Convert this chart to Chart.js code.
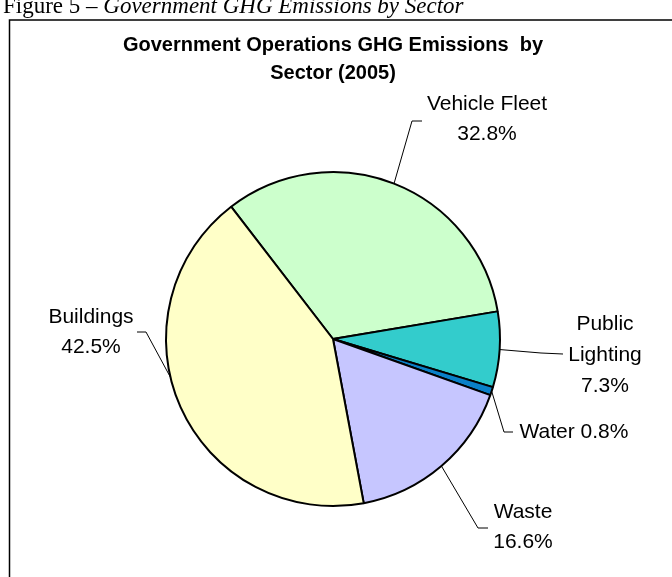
<!DOCTYPE html>
<html>
<head>
<meta charset="utf-8">
<script src="https://cdn.jsdelivr.net/npm/chart.js@4.4.1/dist/chart.umd.min.js"></script>
<style>
  html, body { margin: 0; padding: 0; background: #ffffff; }
  #wrap { position: relative; width: 672px; height: 577px; overflow: hidden; }
  canvas { display: block; }
</style>
</head>
<body>
<div id="wrap"><canvas id="pie" width="672" height="577"></canvas></div>
<script>
// Sector shares of 2005 government operations GHG emissions (%)
const categories = ['Vehicle Fleet', 'Public Lighting', 'Water', 'Waste', 'Buildings'];
const shares = [32.8, 7.3, 0.8, 16.6, 42.5];
const sliceColors = ['#CCFFCC', '#33CCCC', '#0A80C8', '#C6C6FF', '#FFFFC8'];

const captionPlain = 'Figure 5 \u2013 ';
const captionItalic = 'Government GHG Emissions by Sector';
const titleLines = ['Government Operations GHG Emissions  by', 'Sector (2005)'];

const pct = v => v.toFixed(1) + '%';

// Where each slice label sits and how its leader line bends
const labelLayout = [
  { lines: [categories[0], pct(shares[0])], x: 487, y: 104, lh: 30, frac: 0.5,
    path: [[412, 121], [422, 121]] },
  { lines: ['Public', 'Lighting', pct(shares[1])], x: 605, y: 324, lh: 31, frac: 0.5,
    path: [[541, 353], [563, 354]] },
  { lines: [categories[2] + ' ' + pct(shares[2])], x: 574, y: 432, lh: 30, frac: 0.5,
    path: [[504, 432], [513, 432]] },
  { lines: [categories[3], pct(shares[3])], x: 523, y: 512, lh: 30, frac: 0.5,
    path: [[478, 528], [488, 528]] },
  { lines: [categories[4], pct(shares[4])], x: 91, y: 317, lh: 30, frac: 0.571,
    path: [[146, 332], [137, 332]] }
];

const decorations = {
  id: 'decorations',
  beforeDraw(chart) {
    const ctx = chart.ctx;
    ctx.save();
    ctx.fillStyle = '#ffffff';
    ctx.fillRect(0, 0, chart.width, chart.height);

    // caption above the frame
    ctx.fillStyle = '#000000';
    ctx.textBaseline = 'alphabetic';
    ctx.textAlign = 'left';
    ctx.font = '23px "Liberation Serif", "Times New Roman", serif';
    ctx.fillText(captionPlain, 3, 13);
    const w = ctx.measureText(captionPlain).width;
    ctx.font = 'italic 23px "Liberation Serif", "Times New Roman", serif';
    ctx.fillText(captionItalic, 3 + w, 13);

    // frame around the chart
    ctx.strokeStyle = '#000000';
    ctx.lineWidth = 1.5;
    ctx.beginPath();
    ctx.moveTo(9.5, chart.height + 5);
    ctx.lineTo(9.5, 20);
    ctx.lineTo(chart.width + 5, 20);
    ctx.stroke();

    // chart title
    ctx.font = 'bold 20px "Liberation Sans", Arial, sans-serif';
    ctx.textAlign = 'center';
    ctx.textBaseline = 'middle';
    ctx.fillText(titleLines[0], 333, 45);
    ctx.fillText(titleLines[1], 333, 73);
    ctx.restore();
  },
  afterDatasetsDraw(chart) {
    const ctx = chart.ctx;
    const meta = chart.getDatasetMeta(0);
    ctx.save();
    ctx.strokeStyle = '#000000';
    ctx.lineWidth = 1;
    ctx.fillStyle = '#000000';
    ctx.font = '21px "Liberation Sans", Arial, sans-serif';
    ctx.textAlign = 'center';
    ctx.textBaseline = 'middle';
    labelLayout.forEach((lab, i) => {
      const arc = meta.data[i];
      const p = arc.getProps(['x', 'y', 'startAngle', 'endAngle', 'outerRadius'], true);
      const a = p.startAngle + lab.frac * (p.endAngle - p.startAngle);
      const ax = p.x + Math.cos(a) * p.outerRadius;
      const ay = p.y + Math.sin(a) * p.outerRadius;
      ctx.beginPath();
      ctx.moveTo(ax, ay);
      lab.path.forEach(pt => ctx.lineTo(pt[0], pt[1]));
      ctx.stroke();
      lab.lines.forEach((t, k) => ctx.fillText(t, lab.x, lab.y + k * lab.lh));
    });
    ctx.restore();
  }
};

new Chart(document.getElementById('pie'), {
  type: 'pie',
  data: {
    labels: categories,
    datasets: [{
      data: shares,
      backgroundColor: sliceColors,
      borderColor: '#000000',
      borderWidth: 2,
      radius: 167,
      hoverOffset: 0
    }]
  },
  options: {
    responsive: false,
    animation: false,
    rotation: -37.6,
    layout: { padding: { left: 165, right: 171, top: 171, bottom: 70 } },
    plugins: {
      legend: { display: false },
      tooltip: { enabled: false },
      title: { display: false }
    },
    events: []
  },
  plugins: [decorations]
});
</script>
</body>
</html>
